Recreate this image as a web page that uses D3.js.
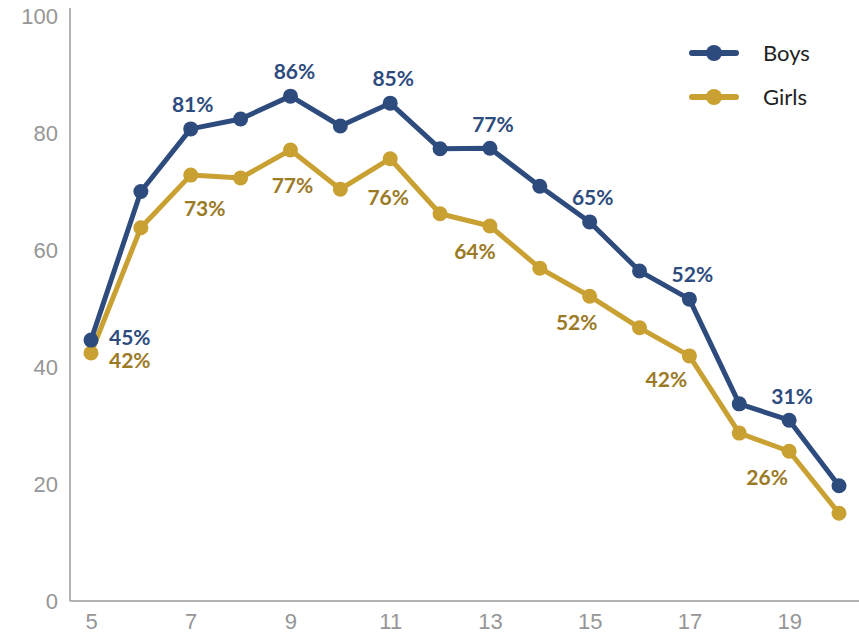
<!DOCTYPE html>
<meta charset="utf-8">
<script src="https://d3js.org/d3.v7.min.js"></script>
<style>
body { margin: 0; background: #fff; font-family: 'Lato', sans-serif; }
.tick text { fill: #969696; font-size: 22px; font-weight: 300; }
.domain { stroke: #9a9a9a; stroke-width: 1.5; }
.lbl { font-size: 21px; font-weight: 700; }
.leg { font-size: 22px; fill: #222; }
</style>
<body>
<svg width="859" height="635"></svg>
<script>
const ages = [5, 6, 7, 8, 9, 10, 11, 12, 13, 14, 15, 16, 17, 18, 19, 20];
const boys = [44.6, 70, 80.7, 82.4, 86.3, 81.2, 85.1, 77.3, 77.4, 70.9, 64.8, 56.4, 51.6, 33.7, 30.9, 19.7];
const girls = [42.4, 63.8, 72.8, 72.3, 77.1, 70.4, 75.6, 66.2, 64.1, 56.9, 52.1, 46.7, 41.9, 28.7, 25.6, 15];
const xTicks = [5, 7, 9, 11, 13, 15, 17, 19];
const yTicks = [0, 20, 40, 60, 80, 100];
// labelled points: [age, text, dx, dy]
const boysLabels = [[5, '45%', 18, -2], [7, '81%', 2, -24], [9, '86%', 4, -24], [11, '85%', 3, -25], [13, '77%', 3, -24], [15, '65%', 3, -24], [17, '52%', 3, -24], [19, '31%', 3, -24]];
const girlsLabels = [[5, '42%', 18, 8], [7, '73%', 14, 34], [9, '77%', 2, 36], [11, '76%', -2, 39], [13, '64%', -15, 26], [15, '52%', -13, 26], [17, '42%', -23, 24], [19, '26%', -22, 26]];

const blue = '#2e4b7d', gold = '#c9a032', goldText = '#9b7a26';

const svg = d3.select('svg');
const x = d3.scaleLinear().domain([5, 20]).range([91, 839]);
const y = d3.scaleLinear().domain([0, 100]).range([601, 16]);

svg.append('g').attr('transform', 'translate(70,0)')
  .call(d3.axisLeft(y).tickValues(yTicks).tickSize(0).tickPadding(12))
  .call(g => g.select('.domain').attr('d', 'M0,8V601'));
svg.append('g').attr('transform', 'translate(0,601)')
  .call(d3.axisBottom(x).tickValues(xTicks).tickSize(0).tickPadding(12))
  .call(g => g.select('.domain').attr('d', 'M70,0H859'));

const line = d3.line().x((d, i) => x(ages[i])).y(d => y(d));

function series(vals, color) {
  svg.append('path').datum(vals).attr('fill', 'none').attr('stroke', color)
    .attr('stroke-width', 5).attr('stroke-linejoin', 'round').attr('d', line);
  svg.append('g').selectAll('circle').data(vals).join('circle')
    .attr('cx', (d, i) => x(ages[i])).attr('cy', d => y(d)).attr('r', 7.5).attr('fill', color);
}
series(girls, gold);
series(boys, blue);

function labels(list, vals, color) {
  svg.append('g').selectAll('text').data(list).join('text')
    .attr('class', 'lbl').attr('fill', color).attr('text-anchor', d => d[0] === 5 ? 'start' : 'middle')
    .attr('x', d => x(d[0]) + d[2])
    .attr('y', d => y(vals[ages.indexOf(d[0])]) + d[3])
    .attr('dy', '0.35em')
    .text(d => d[1]);
}
labels(boysLabels, boys, blue);
labels(girlsLabels, girls, goldText);

const legend = svg.append('g');
[['Boys', blue, 53], ['Girls', gold, 97]].forEach(([name, c, ly]) => {
  legend.append('line').attr('x1', 692).attr('x2', 736).attr('y1', ly).attr('y2', ly)
    .attr('stroke', c).attr('stroke-width', 6).attr('stroke-linecap', 'round');
  legend.append('circle').attr('cx', 714).attr('cy', ly).attr('r', 8).attr('fill', c);
  legend.append('text').attr('class', 'leg').attr('x', 763).attr('y', ly).attr('dy', '0.35em').text(name);
});
</script>
</body>
